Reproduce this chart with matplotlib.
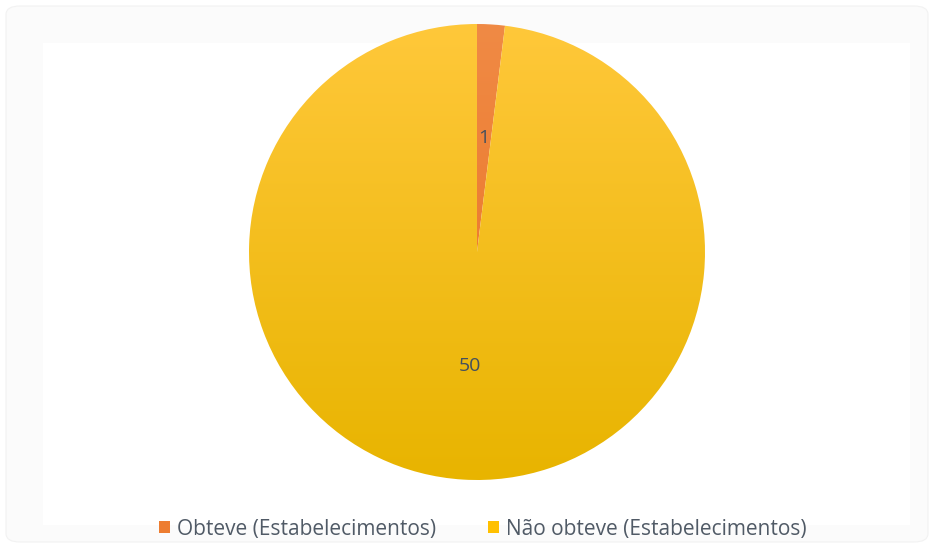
import matplotlib.pyplot as plt
import numpy as np
from matplotlib.patches import FancyBboxPatch, Rectangle
from matplotlib.colors import LinearSegmentedColormap

plt.rcParams['font.family'] = ['Open Sans', 'DejaVu Sans']

# dados
categorias = ['Obteve (Estabelecimentos)', 'Não obteve (Estabelecimentos)']
valores = [1, 50]
cores_topo = ['#F08A45', '#FFC83A']
cores_base = ['#E8701E', '#E8B400']

W, H = 934, 548
fig = plt.figure(figsize=(W / 100, H / 100), dpi=100)
fig.patch.set_facecolor('white')

# moldura clara em volta do gráfico
fig.patches.append(FancyBboxPatch((6 / W, 6 / H), 922 / W, 536 / H,
                                  boxstyle='round,pad=0,rounding_size=0.015',
                                  transform=fig.transFigure, facecolor='#fbfbfb',
                                  edgecolor='#f2f2f2', linewidth=0.8, zorder=-2))
fig.patches.append(Rectangle((43 / W, (H - 525) / H), (910 - 43) / W, (525 - 43) / H,
                             transform=fig.transFigure, facecolor='white',
                             edgecolor='none', zorder=-1))

cx, cy, r = 477, 252, 228
ax = fig.add_axes([(cx - r) / W, (H - cy - r) / H, 2 * r / W, 2 * r / H])
ax.set_facecolor('none')
ax.set_zorder(1)

wedges, textos, autotextos = ax.pie(
    valores, startangle=90, counterclock=False, radius=1,
    autopct=lambda p: f'{p * sum(valores) / 100:.0f}', pctdistance=0.5,
    textprops=dict(color='#44505E', fontsize=14), frame=False)
ax.set_xlim(-1, 1)
ax.set_ylim(-1, 1)
ax.set_aspect('equal')

# preenchimento em degradê vertical, recortado por cada fatia
grad = np.linspace(0, 1, 256).reshape(-1, 1)
for w, c0, c1 in zip(wedges, cores_topo, cores_base):
    cmap = LinearSegmentedColormap.from_list('g', [c0, c1])
    w.set_facecolor('none')
    w.set_edgecolor('none')
    im = ax.imshow(grad, cmap=cmap, extent=(-1, 1, -1, 1), origin='upper',
                   aspect='auto', zorder=1)
    im.set_clip_path(w)
for t in autotextos:
    t.set_zorder(3)

# legenda
handles = [Rectangle((0, 0), 1, 1, facecolor=c) for c in ['#ED7D31', '#FFC000']]
fig.legend(handles, categorias, loc='center', bbox_to_anchor=(483 / W, 1 - 529 / H),
           ncol=2, frameon=False, fontsize=15, handlelength=0.5, handleheight=0.5,
           handletextpad=0.35, columnspacing=2.5, labelcolor='#505A66')

fig.savefig('out.png', dpi=100)
